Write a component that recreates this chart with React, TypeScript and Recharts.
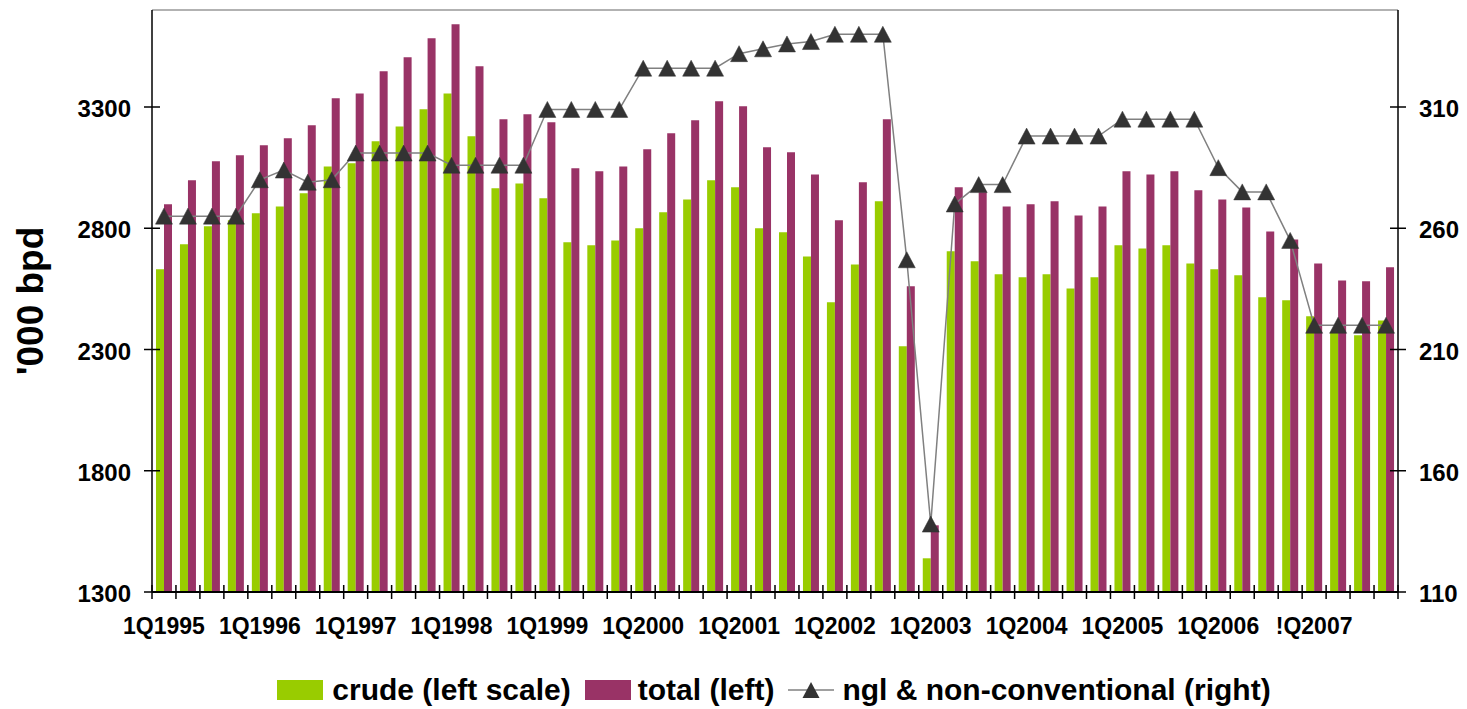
import React from 'react';
import { ComposedChart, Bar, Line, XAxis, YAxis, Legend, ReferenceLine } from 'recharts';

const quarters = [
  '1Q1995', '2Q1995', '3Q1995', '4Q1995',
  '1Q1996', '2Q1996', '3Q1996', '4Q1996',
  '1Q1997', '2Q1997', '3Q1997', '4Q1997',
  '1Q1998', '2Q1998', '3Q1998', '4Q1998',
  '1Q1999', '2Q1999', '3Q1999', '4Q1999',
  '1Q2000', '2Q2000', '3Q2000', '4Q2000',
  '1Q2001', '2Q2001', '3Q2001', '4Q2001',
  '1Q2002', '2Q2002', '3Q2002', '4Q2002',
  '1Q2003', '2Q2003', '3Q2003', '4Q2003',
  '1Q2004', '2Q2004', '3Q2004', '4Q2004',
  '1Q2005', '2Q2005', '3Q2005', '4Q2005',
  '1Q2006', '2Q2006', '3Q2006', '4Q2006',
  '1Q2007', '2Q2007', '3Q2007', '4Q2007',
];

const xTickLabels = [
  '1Q1995', '1Q1996', '1Q1997', '1Q1998', '1Q1999', '1Q2000', '1Q2001',
  '1Q2002', '1Q2003', '1Q2004', '1Q2005', '1Q2006', '!Q2007',
];

const crude = [
  2631, 2734, 2808, 2833, 2862, 2890, 2944, 3055, 3068, 3159, 3220, 3291,
  3356, 3179, 2965, 2985, 2924, 2742, 2730, 2750, 2800, 2866, 2919, 2998,
  2969, 2800, 2783, 2684, 2495, 2651, 2911, 2313, 1439, 2705, 2664, 2610,
  2598, 2610, 2552, 2598, 2730, 2717, 2730, 2655, 2631, 2606, 2515, 2503,
  2437, 2372, 2359, 2420,
];

const total = [
  2899, 2998, 3076, 3101, 3142, 3171, 3225, 3336, 3356, 3447, 3505, 3583,
  3641, 3468, 3249, 3270, 3237, 3047, 3035, 3055, 3126, 3192, 3245, 3324,
  3303, 3134, 3113, 3022, 2833, 2990, 3249, 2561, 1575, 2969, 2948, 2890,
  2899, 2911, 2853, 2890, 3035, 3022, 3035, 2957, 2919, 2886, 2787, 2754,
  2655, 2585, 2581, 2639,
];

const ngl = [
  265, 265, 265, 265, 280, 284, 279, 280, 291, 291, 291, 291,
  286, 286, 286, 286, 309, 309, 309, 309, 326, 326, 326, 326,
  332, 334, 336, 337, 340, 340, 340, 247, 138, 270, 278, 278,
  298, 298, 298, 298, 305, 305, 305, 305, 285, 275, 275, 255,
  220, 220, 220, 220,
];

const leftTicks = [1300, 1800, 2300, 2800, 3300];
const rightTicks = [110, 160, 210, 260, 310];

const data = quarters.map((q, i) => ({ q, crude: crude[i], total: total[i], ngl: ngl[i] }));

const W = 1467;
const H = 705;
const LEFT_W = 152;
const RIGHT_W = 69;
const TOP = 10;
const LEGEND_H = 40;
const XAXIS_H = 73;
const BAND = (W - LEFT_W - RIGHT_W) / quarters.length;

const GREEN = '#99CC00';
const PURPLE = '#993366';
const FONT = '"Liberation Sans", Arial, sans-serif';

const LeftTick = (props: any) => {
  const { x, y, payload } = props;
  return (
    <g>
      <line x1={x - 8} x2={x + 8} y1={y} y2={y} stroke="#000" strokeWidth={1.5} />
      <text x={x - 21} y={y + 10} textAnchor="end" fontFamily={FONT} fontWeight="bold" fontSize={24} fill="#000">
        {payload.value}
      </text>
    </g>
  );
};

const RightTick = (props: any) => {
  const { x, y, payload } = props;
  return (
    <g>
      <line x1={x - 8} x2={x + 8} y1={y} y2={y} stroke="#000" strokeWidth={1.5} />
      <text x={x + 21} y={y + 10} textAnchor="start" fontFamily={FONT} fontWeight="bold" fontSize={24} fill="#000">
        {payload.value}
      </text>
    </g>
  );
};

const XTick = (props: any) => {
  const { x, y, index } = props;
  const half = BAND / 2;
  const label = index % 4 === 0 ? xTickLabels[index / 4] : null;
  return (
    <g>
      <line x1={x - half} x2={x - half} y1={y - 7} y2={y + 7} stroke="#000" strokeWidth={1.5} />
      {index === quarters.length - 1 ? (
        <line x1={x + half} x2={x + half} y1={y - 7} y2={y + 7} stroke="#000" strokeWidth={1.5} />
      ) : null}
      {label ? (
        <text x={x} y={y + 42} textAnchor="middle" fontFamily={FONT} fontWeight="bold" fontSize={23} fill="#000">
          {label}
        </text>
      ) : null}
    </g>
  );
};

const triPath = (cx: number, cy: number) =>
  `M${cx},${cy - 8} L${cx + 8.5},${cy + 8} L${cx - 8.5},${cy + 8} Z`;

const renderDot = (p: any) => {
  if (p.cx == null || p.cy == null) return <g key={p.index} />;
  return <path key={p.index} d={triPath(p.cx, p.cy)} fill="#333333" stroke="#333333" strokeWidth={0.5} />;
};

const YTitle = (props: any) => {
  const vb = props.viewBox || { y: TOP, height: 582 };
  const cy = vb.y + vb.height / 2;
  return (
    <text
      transform={`translate(43,${cy}) rotate(-90)`}
      textAnchor="middle"
      fontFamily={FONT}
      fontWeight="bold"
      fontSize={37}
      fill="#000"
    >
      '000 bpd
    </text>
  );
};

const LegendContent = () => (
  <div
    style={{
      boxSizing: 'border-box',
      width: W,
      height: LEGEND_H,
      paddingTop: 10,
      paddingLeft: 81,
      display: 'flex',
      justifyContent: 'center',
      alignItems: 'center',
      fontFamily: FONT,
      fontWeight: 'bold',
      fontSize: 30,
      color: '#000',
      whiteSpace: 'nowrap',
    }}
  >
    <span style={{ display: 'inline-block', width: 46, height: 20, background: GREEN, marginRight: 9 }} />
    <span>crude (left scale)</span>
    <span style={{ display: 'inline-block', width: 46, height: 20, background: PURPLE, marginLeft: 14, marginRight: 7 }} />
    <span>total (left)</span>
    <svg width={46} height={20} style={{ marginLeft: 14, marginRight: 8, display: 'inline-block' }}>
      <line x1={0} x2={46} y1={10} y2={10} stroke="#808080" strokeWidth={1.5} />
      <path d={triPath(23, 10)} fill="#333333" />
    </svg>
    <span>ngl &amp; non-conventional (right)</span>
  </div>
);

export default function App() {
  return (
    <div style={{ position: 'absolute', left: 0, top: 0, width: W, height: H, background: '#fff' }}>
      <ComposedChart
        width={W}
        height={H}
        data={data}
        margin={{ top: TOP, right: 0, bottom: 0, left: 0 }}
        barCategoryGap="16.7%"
        barGap={0}
      >
        <XAxis
          dataKey="q"
          height={XAXIS_H}
          interval={0}
          tickSize={0}
          tickMargin={0}
          tickLine={false}
          tick={<XTick />}
          axisLine={{ stroke: '#000', strokeWidth: 2 }}
        />
        <YAxis
          yAxisId="left"
          orientation="left"
          width={LEFT_W}
          domain={[1300, 3700]}
          ticks={leftTicks}
          allowDataOverflow
          tickSize={0}
          tickMargin={0}
          tickLine={false}
          tick={<LeftTick />}
          axisLine={{ stroke: '#000', strokeWidth: 1.5 }}
          label={{ content: (p: any) => <YTitle {...p} /> }}
        />
        <YAxis
          yAxisId="right"
          orientation="right"
          width={RIGHT_W}
          domain={[110, 350]}
          ticks={rightTicks}
          allowDataOverflow
          tickSize={0}
          tickMargin={0}
          tickLine={false}
          tick={<RightTick />}
          axisLine={{ stroke: '#000', strokeWidth: 1.5 }}
        />
        <ReferenceLine yAxisId="left" y={3700} stroke="#999999" strokeWidth={1.5} />
        <Bar yAxisId="left" dataKey="crude" name="crude (left scale)" fill={GREEN} isAnimationActive={false} />
        <Bar yAxisId="left" dataKey="total" name="total (left)" fill={PURPLE} isAnimationActive={false} />
        <Line
          yAxisId="right"
          dataKey="ngl"
          name="ngl & non-conventional (right)"
          type="linear"
          stroke="#808080"
          strokeWidth={1.5}
          dot={renderDot}
          activeDot={false}
          isAnimationActive={false}
        />
        <Legend
          verticalAlign="bottom"
          height={LEGEND_H}
          wrapperStyle={{ left: 0, width: W, height: LEGEND_H }}
          content={() => <LegendContent />}
        />
      </ComposedChart>
    </div>
  );
}
